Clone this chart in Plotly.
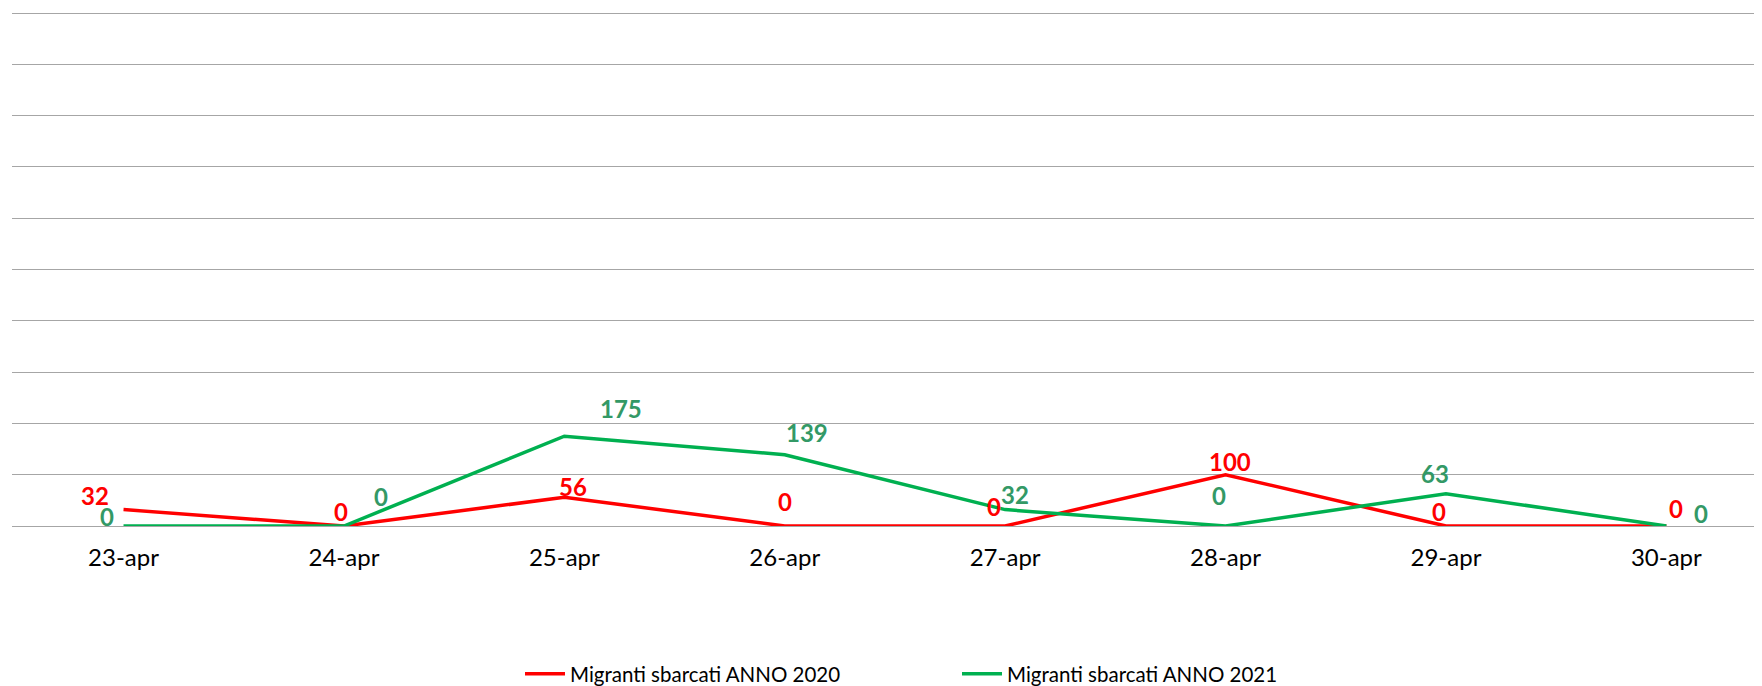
import plotly.graph_objects as go

categories = ["23-apr", "24-apr", "25-apr", "26-apr", "27-apr", "28-apr", "29-apr", "30-apr"]
series_2020 = [32, 0, 56, 0, 0, 100, 0, 0]
series_2021 = [0, 0, 175, 139, 32, 0, 63, 0]
name_2020 = "Migranti sbarcati ANNO 2020"
name_2021 = "Migranti sbarcati ANNO 2021"

# label offsets (px) - style only
off_2020 = [(-29, 14), (-3, 15), (9, 11), (0, 25), (-11, 20), (4, 13), (-7, 15), (10, 18)]
off_2021 = [(-17, 10), (37, 30), (57, 28), (22, 22), (10, 15), (-7, 31), (-11, 20), (35, 13)]

RED = "#FF0000"
GREEN_LINE = "#00B050"
GREEN_LABEL = "#339966"
FONT = "Lato, Carlito, 'Liberation Sans', sans-serif"

fig = go.Figure()
fig.add_trace(go.Scatter(x=categories, y=series_2020, mode="lines", name=name_2020,
                         line=dict(color=RED, width=3.5)))
fig.add_trace(go.Scatter(x=categories, y=series_2021, mode="lines", name=name_2021,
                         line=dict(color=GREEN_LINE, width=3.5)))

for vals, offs, col in ((series_2020, off_2020, RED), (series_2021, off_2021, GREEN_LABEL)):
    for c, v, (dx, dy) in zip(categories, vals, offs):
        fig.add_annotation(x=c, y=v, text="<b>%d</b>" % v, showarrow=False,
                           xanchor="center", yanchor="middle", xshift=dx, yshift=dy,
                           font=dict(family=FONT, size=24, color=col))

fig.update_layout(
    width=1762, height=686,
    margin=dict(l=4, r=8, t=0, b=168, autoexpand=False),
    paper_bgcolor="white", plot_bgcolor="white",
    font=dict(family=FONT, size=24, color="#000000"),
    showlegend=True,
    legend=dict(orientation="h", x=0.540, xanchor="center", y=-0.2857, yanchor="middle",
                font=dict(family=FONT, size=20.5, color="#000000"),
                entrywidth=382, itemwidth=40),
    xaxis=dict(type="category", range=[-0.506, 7.434], showgrid=False, showline=False,
               ticks="", tickfont=dict(family=FONT, size=24), ticklabelstandoff=15),
    yaxis=dict(range=[0, 1010], dtick=100, tick0=0, showticklabels=False, showgrid=True,
               gridcolor="#A6A6A6", gridwidth=1.3, zeroline=True, zerolinecolor="#A6A6A6",
               zerolinewidth=1.3, showline=False),
)

fig.write_html("out.html")
